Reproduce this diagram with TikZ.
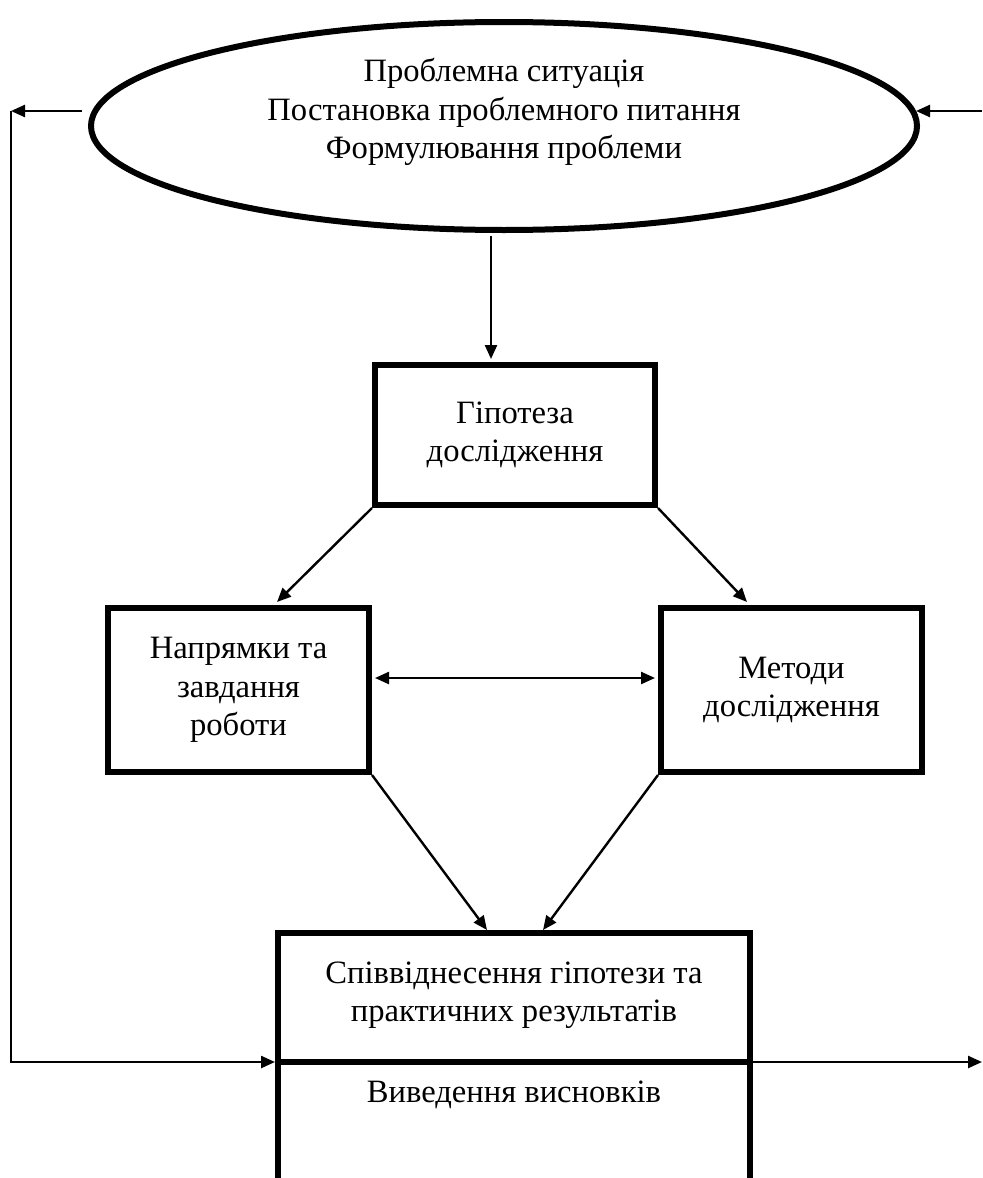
\documentclass[tikz,border=0pt]{standalone}
\usepackage{fontspec}
\setmainfont{Liberation Serif}
\usetikzlibrary{shapes.geometric,arrows.meta,calc}
\begin{document}
\begin{tikzpicture}[x=0.5pt,y=-0.5pt,
  txt/.style={font=\fontsize{16.3}{19.2}\selectfont,align=center,inner sep=0pt},
  thickbox/.style={draw,line width=3pt,rectangle,inner sep=0pt,txt},
  conn/.style={line width=1.2pt,-{Triangle[length=7pt,width=6pt]}},
  dconn/.style={line width=1.2pt,{Triangle[length=7pt,width=6pt]}-{Triangle[length=7pt,width=6pt]}},
  heavy/.style={line width=3pt,line join=miter}]
\useasboundingbox (0,0) rectangle (982,1178);
% ellipse
\node[ellipse,draw,line width=3pt,minimum width=413pt,minimum height=104pt,inner sep=0pt] (ell) at (504,126) {};
\node[txt] (elltext) at (504,112) {Проблемна ситуація\\Постановка проблемного питання\\Формулювання проблеми};
% boxes
\node[thickbox,minimum width=140pt,minimum height=70pt] (hyp) at (515,435) {Гіпотеза\\дослідження};
\node[thickbox,minimum width=130.5pt,minimum height=82pt] (dir) at (238.5,690) {Напрямки та\\завдання\\роботи};
\node[thickbox,minimum width=130.5pt,minimum height=82pt] (met) at (791.5,690) {Методи\\дослідження};
% bottom open box
\coordinate (bl) at (278,1178);
\coordinate (btl) at (278,933);
\coordinate (btr) at (750,933);
\coordinate (br) at (750,1178);
\coordinate (dl) at (278,1062);
\coordinate (dr) at (750,1062);
\draw[heavy] (bl) -- (btl) -- (btr) -- (br);
\draw[heavy] (dl) -- (dr);
\node[txt] (res) at (514,995) {Співвіднесення гіпотези та\\практичних результатів};
\node[txt] (concl) at (514,1095) {Виведення висновків};
% side loop
\coordinate (la) at (82,111);
\coordinate (lc) at (11,111);
\coordinate (lb) at (11,1062);
\coordinate (ra) at (982,111);
\coordinate (rtip) at (916,111);
\coordinate (rb) at (982,1062);
\draw[conn] (la) -- (lc);
\draw[conn] (lc) -- (lb) -- ($(dl)+(-3,0)$);
\draw[conn] (ra) -- (rtip);
\draw[conn] ($(dr)+(3,0)$) -- (rb);
% connectors
\draw[conn] ($(ell.south)+(-13,3)$) -- ($(hyp.north)+(-24,-3)$);
\draw[conn] (hyp.south west) -- ($(dir.north)+(38.5,-3)$);
\draw[conn] (hyp.south east) -- ($(met.north)+(-44.5,-3)$);
\draw[dconn] ($(dir.east)+(3,-12)$) -- ($(met.west)+(-3,-12)$);
\draw[conn] (dir.south east) -- ($(btl)+(209,-3)$);
\draw[conn] (met.south west) -- ($(btl)+(265,-3)$);
\end{tikzpicture}
\end{document}
